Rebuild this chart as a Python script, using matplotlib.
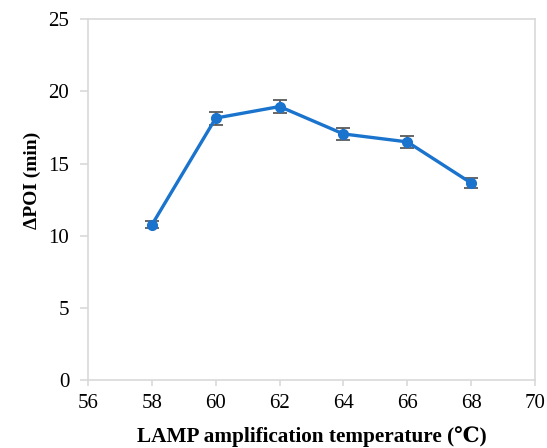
import matplotlib
matplotlib.use("Agg")
import matplotlib.pyplot as plt

# data
temps = [58, 60, 62, 64, 66, 68]
dpoi = [10.75, 18.15, 18.95, 17.05, 16.5, 13.65]
err = [0.25, 0.45, 0.45, 0.42, 0.43, 0.35]

plt.rcParams['font.family'] = ['Liberation Serif', 'DejaVu Serif']

fig = plt.figure(figsize=(5.47, 4.48), dpi=100)
ax = fig.add_axes([0.161, 0.152, 0.817, 0.805])

# error bars first, then line with markers on top
ax.errorbar(temps, dpoi, yerr=err, fmt='none', ecolor='#5a5a5a',
            elinewidth=1.3, capsize=5, capthick=1.3, zorder=2)
ax.plot(temps, dpoi, color='#1a73cc', linewidth=2.4, marker='o',
        markersize=7, zorder=3)

ax.set_xlim(56, 70)
ax.set_ylim(0, 25)
ax.set_xticks(range(56, 71, 2))
ax.set_yticks(range(0, 26, 5))

for s in ax.spines.values():
    s.set_color('#d9d9d9')
    s.set_linewidth(1.2)
ax.tick_params(axis='both', colors='#d9d9d9', labelcolor='black',
               labelsize=15, width=1.2, direction='out')
ax.tick_params(axis='x', length=4, pad=6.5)
ax.tick_params(axis='y', length=6, pad=7.5)

ax.set_xlabel('LAMP amplification temperature (℃)', fontsize=15.3,
              fontweight='bold')
ax.set_ylabel('ΔPOI (min)', fontsize=14, fontweight='bold')
ax.xaxis.set_label_coords(0.5, -0.128)
ax.yaxis.set_label_coords(-0.105, 0.554)

fig.savefig('out.png', dpi=100)
